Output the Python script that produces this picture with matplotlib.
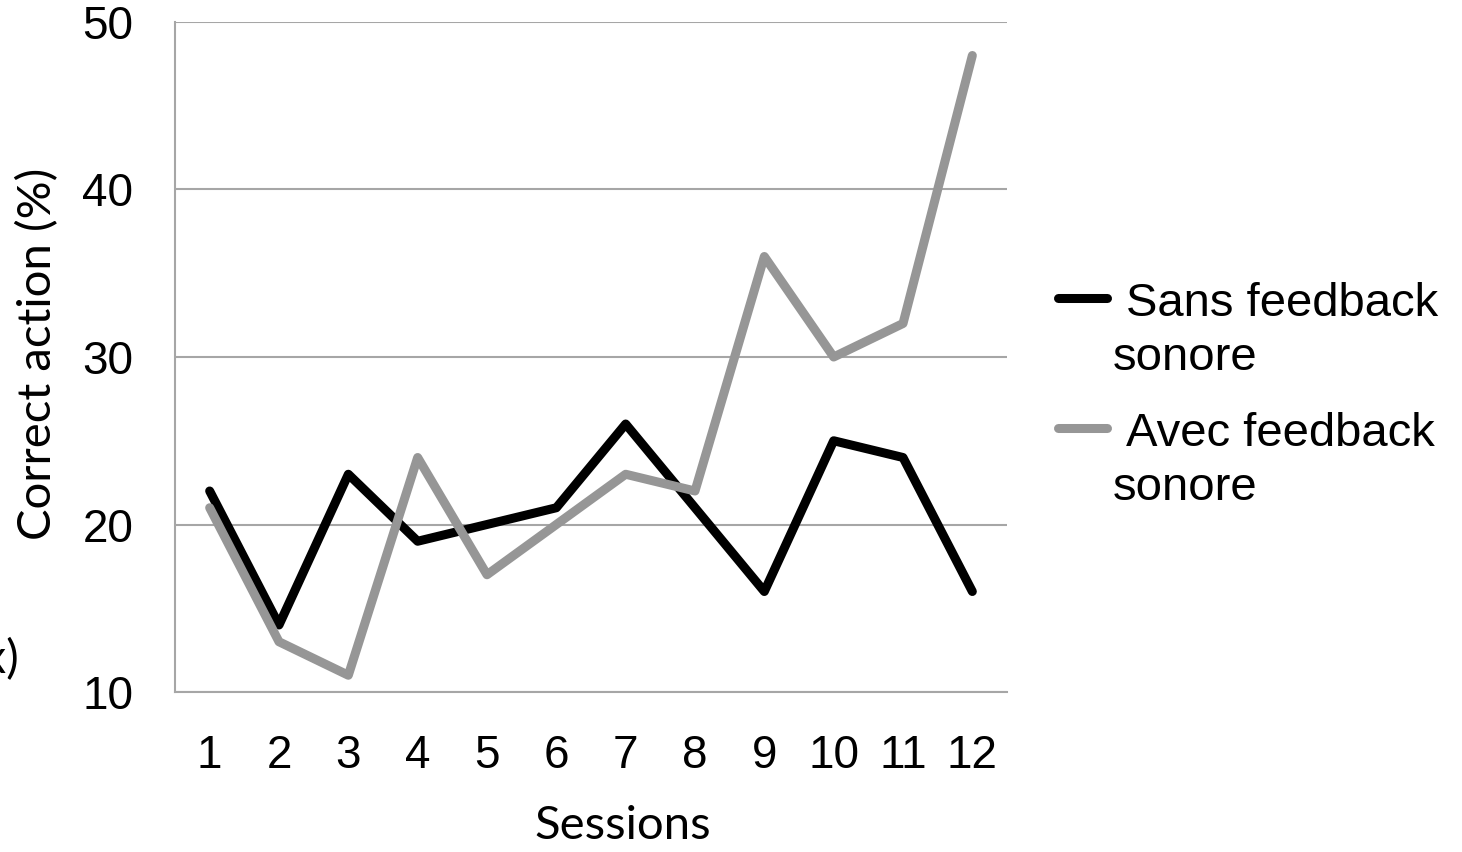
import matplotlib
matplotlib.use("Agg")
import matplotlib.pyplot as plt
from matplotlib.lines import Line2D

sessions = list(range(1, 13))
sans_feedback = [22, 14, 23, 19, 20, 21, 26, 21, 16, 25, 24, 16]
avec_feedback = [21, 13, 11, 24, 17, 20, 23, 22, 36, 30, 32, 48]
series_labels = ["Sans feedback\nsonore", "Avec feedback\nsonore"]
y_ticks = [10, 20, 30, 40, 50]

BLACK = "#000000"
GREY = "#969696"
GRID = "#a6a6a6"
W, H = 1462, 852

fig = plt.figure(figsize=(W / 100, H / 100), dpi=100)
ax = fig.add_axes([175 / W, 1 - 692 / H, (1007 - 175) / W, (692 - 22) / H])

ax.plot(sessions, sans_feedback, color=BLACK, lw=6.5, solid_capstyle="round", zorder=3)
ax.plot(sessions, avec_feedback, color=GREY, lw=6.5, solid_capstyle="round", zorder=4)

ax.set_xlim(0.5, 12.5)
ax.set_ylim(10, 50)
ax.set_xticks(sessions)
ax.set_yticks(y_ticks)
ax.tick_params(length=0, labelsize=33, pad=30)
ax.tick_params(axis="x", pad=30)
for lab in ax.get_xticklabels() + ax.get_yticklabels():
    lab.set_family("Liberation Sans")

# grid and frame
for v in y_ticks:
    ax.axhline(v, color=GRID, lw=1.5, zorder=1)
for side in ["top", "right"]:
    ax.spines[side].set_visible(False)
ax.spines["left"].set_color(GRID)
ax.spines["left"].set_linewidth(1.5)
ax.spines["bottom"].set_color(GRID)
ax.spines["bottom"].set_linewidth(1.5)

label_font = dict(family="Lato", size=34)
fig.text(623 / W, 1 - 826 / H, "Sessions", ha="center", va="center", **label_font)
fig.text(38 / W, 1 - 354 / H, "Correct action (%)", ha="center", va="center",
         rotation=90, **label_font)
# stray clipped text at the left edge
fig.text(20 / W, 1 - 660 / H, "(x)", ha="right", va="center", **label_font)

# legend
for color, label, y in [(BLACK, series_labels[0], 298), (GREY, series_labels[1], 428)]:
    fig.add_artist(Line2D([1058 / W, 1107 / W], [1 - y / H, 1 - y / H],
                          color=color, lw=6.5, solid_capstyle="round"))
    first, second = label.split("\n")
    fig.text(1126 / W, 1 - (y + 6) / H, first, ha="left", va="center",
             family="Liberation Sans", size=34)
    fig.text(1113 / W, 1 - (y + 60) / H, second, ha="left", va="center",
             family="Liberation Sans", size=34)

fig.savefig("out.png", dpi=100)
